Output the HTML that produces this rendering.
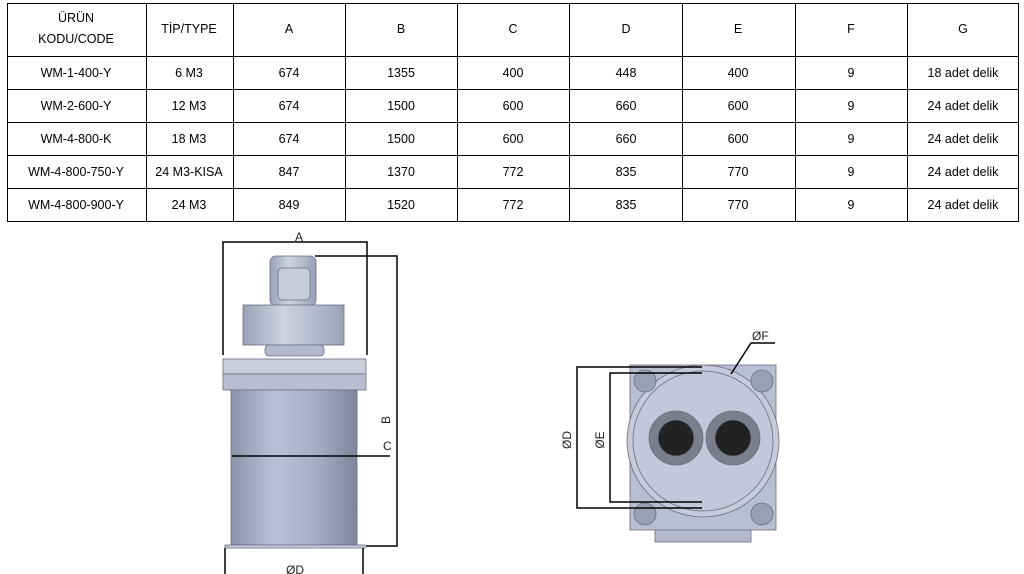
<!DOCTYPE html>
<html><head><meta charset="utf-8"><style>
body{margin:0;width:1024px;height:574px;background:#fff;overflow:hidden;font-family:"Liberation Sans",sans-serif;}
svg{position:absolute;left:0;top:0}
</style></head><body>
<svg width="1024" height="574" viewBox="0 0 1024 574" font-family="Liberation Sans, sans-serif">
<defs>
<linearGradient id="cyl" x1="0" x2="1"><stop offset="0" stop-color="#8c92a8"/><stop offset=".35" stop-color="#bcc1d6"/><stop offset=".7" stop-color="#a6abc2"/><stop offset="1" stop-color="#7e8499"/></linearGradient>
<linearGradient id="fan" x1="0" x2="1"><stop offset="0" stop-color="#9aa0b6"/><stop offset=".4" stop-color="#cfd3e2"/><stop offset="1" stop-color="#9ca1b6"/></linearGradient>
</defs>
<g stroke="#000" stroke-width="1" fill="none">
<rect x="7.5" y="3.5" width="1011" height="218"/>
<line x1="7" y1="56.5" x2="1018" y2="56.5"/><line x1="7" y1="89.5" x2="1018" y2="89.5"/>
<line x1="7" y1="122.5" x2="1018" y2="122.5"/><line x1="7" y1="155.5" x2="1018" y2="155.5"/>
<line x1="7" y1="188.5" x2="1018" y2="188.5"/>
<line x1="146.5" y1="3" x2="146.5" y2="221"/><line x1="233.5" y1="3" x2="233.5" y2="221"/>
<line x1="345.5" y1="3" x2="345.5" y2="221"/><line x1="457.5" y1="3" x2="457.5" y2="221"/>
<line x1="569.5" y1="3" x2="569.5" y2="221"/><line x1="682.5" y1="3" x2="682.5" y2="221"/>
<line x1="795.5" y1="3" x2="795.5" y2="221"/><line x1="907.5" y1="3" x2="907.5" y2="221"/>
</g>
<g font-size="12.5" text-anchor="middle" fill="#000">
<text x="76" y="22">ÜRÜN</text><text x="76" y="43">KODU/CODE</text><text x="189" y="33">TİP/TYPE</text>
<text x="289" y="33">A</text><text x="401" y="33">B</text><text x="513" y="33">C</text><text x="626" y="33">D</text><text x="738" y="33">E</text><text x="851" y="33">F</text><text x="963" y="33">G</text>
<g transform="translate(0,77)"><text x="76">WM-1-400-Y</text><text x="189">6 M3</text><text x="289">674</text><text x="401">1355</text><text x="513">400</text><text x="626">448</text><text x="738">400</text><text x="851">9</text><text x="963">18 adet delik</text></g>
<g transform="translate(0,110)"><text x="76">WM-2-600-Y</text><text x="189">12 M3</text><text x="289">674</text><text x="401">1500</text><text x="513">600</text><text x="626">660</text><text x="738">600</text><text x="851">9</text><text x="963">24 adet delik</text></g>
<g transform="translate(0,143)"><text x="76">WM-4-800-K</text><text x="189">18 M3</text><text x="289">674</text><text x="401">1500</text><text x="513">600</text><text x="626">660</text><text x="738">600</text><text x="851">9</text><text x="963">24 adet delik</text></g>
<g transform="translate(0,176)"><text x="76">WM-4-800-750-Y</text><text x="189">24 M3-KISA</text><text x="289">847</text><text x="401">1370</text><text x="513">772</text><text x="626">835</text><text x="738">770</text><text x="851">9</text><text x="963">24 adet delik</text></g>
<g transform="translate(0,209)"><text x="76">WM-4-800-900-Y</text><text x="189">24 M3</text><text x="289">849</text><text x="401">1520</text><text x="513">772</text><text x="626">835</text><text x="738">770</text><text x="851">9</text><text x="963">24 adet delik</text></g>
</g>
<g stroke="#6a6e80" stroke-width="0.8">
<rect x="270" y="256" width="46" height="50" rx="6" fill="url(#fan)"/>
<rect x="278" y="268" width="32" height="32" rx="4" fill="#c7cbdb"/>
<rect x="243" y="305" width="101" height="40" fill="url(#fan)"/>
<rect x="265" y="345" width="59" height="11" rx="4" fill="#b3b8cc"/>
<rect x="223" y="359" width="143" height="15" fill="#c9cddc"/>
<rect x="223" y="374" width="143" height="16" fill="#b9bdcf"/>
<rect x="231" y="390" width="126" height="155" fill="url(#cyl)"/>
<rect x="225" y="545" width="140" height="3" fill="#c9cddc"/>
</g>
<g stroke="#000" stroke-width="1.5" fill="none">
<polyline points="223,355 223,242 367,242 367,355"/>
<polyline points="315,256 397,256 397,546 366,546"/>
<line x1="232" y1="456" x2="390" y2="456"/>
<polyline points="225,574 225,548"/><polyline points="363,574 363,548"/>
</g>
<g font-size="12" fill="#222">
<text x="299" y="241" text-anchor="middle">A</text>
<text x="383" y="450">C</text>
<text transform="translate(390,420) rotate(-90)" text-anchor="middle">B</text>
<text x="295" y="574" text-anchor="middle">ØD</text>
</g>
<g stroke="#6a6e80" stroke-width="0.8">
<rect x="655" y="525" width="96" height="17" fill="#b3b8cc"/>
<rect x="630" y="365" width="146" height="165" fill="#b9bed1"/>
<circle cx="703" cy="441" r="76" fill="#c6cadb"/>
<circle cx="703" cy="441" r="70" fill="#c3c7d9"/>
<circle cx="676" cy="438" r="27" fill="#7b7f8c"/><circle cx="676" cy="438" r="18" fill="#222"/>
<circle cx="733" cy="438" r="27" fill="#7b7f8c"/><circle cx="733" cy="438" r="18" fill="#222"/>
<circle cx="645" cy="381" r="11" fill="#9a9fb2"/><circle cx="762" cy="381" r="11" fill="#9a9fb2"/>
<circle cx="645" cy="514" r="11" fill="#9a9fb2"/><circle cx="762" cy="514" r="11" fill="#9a9fb2"/>
</g>
<g stroke="#000" stroke-width="1.5" fill="none">
<polyline points="702,367 577,367 577,508 702,508"/>
<polyline points="702,373 610,373 610,502 702,502"/>
<polyline points="731,374 751,343 775,343"/>
</g>
<g font-size="12" fill="#222">
<text x="752" y="340">ØF</text>
<text transform="translate(571,440) rotate(-90)" text-anchor="middle">ØD</text>
<text transform="translate(604,440) rotate(-90)" text-anchor="middle">ØE</text>
</g>
</svg>
</body></html>
